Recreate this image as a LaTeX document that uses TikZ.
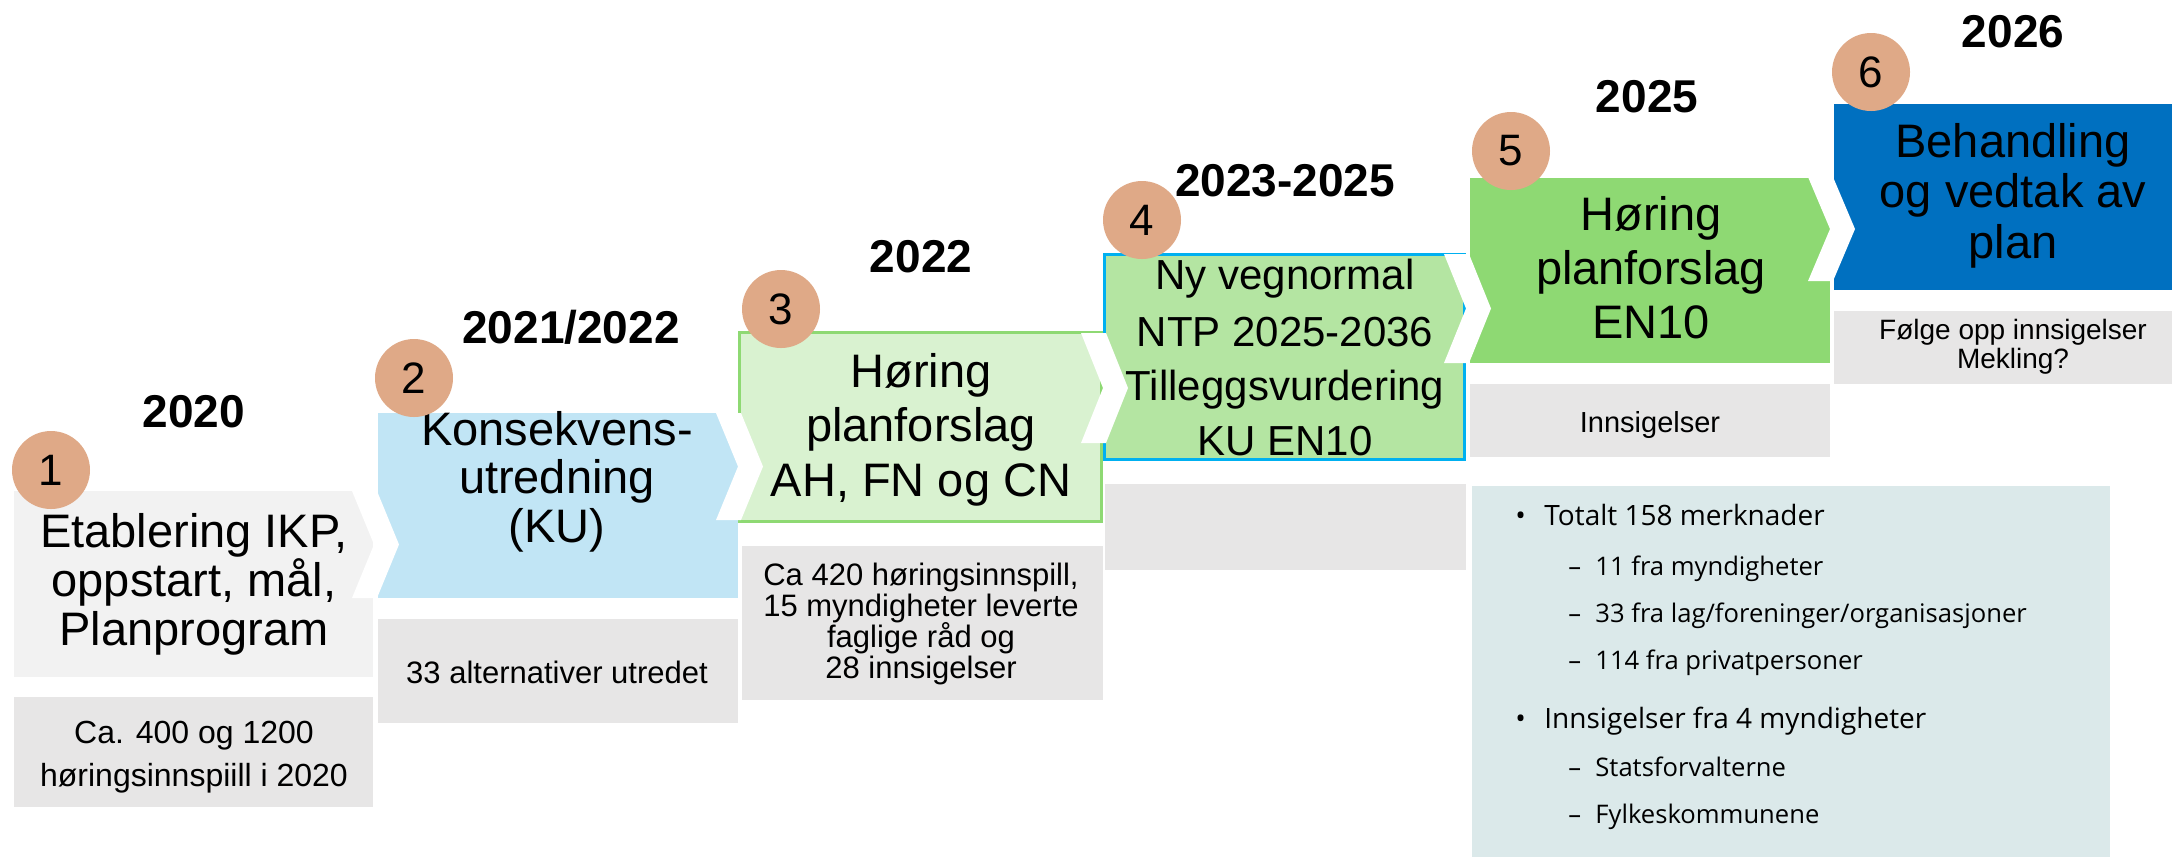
\documentclass[tikz,border=0pt]{standalone}
\usepackage{fontspec}
\setmainfont{Liberation Sans}
\newfontfamily\listfont{Open Sans}
\definecolor{boxgray}{HTML}{F2F2F2}
\definecolor{boxblue}{HTML}{C1E5F5}
\definecolor{boxpale}{HTML}{D9F2D0}
\definecolor{boxmid}{HTML}{B4E5A2}
\definecolor{boxgreen}{HTML}{8ED973}
\definecolor{boxdark}{HTML}{0070C0}
\definecolor{edgeblue}{HTML}{00B0F0}
\definecolor{notegray}{HTML}{E7E6E6}
\definecolor{teal}{HTML}{DBE9EA}
\definecolor{peach}{HTML}{DFA987}
\newcommand\chevw[3]{\fill[white] (#1-22,#2) -- (#1+3,#2) -- (#1+25,#2+#3/2) -- (#1+3,#2+#3) -- (#1-22,#2+#3) -- (#1,#2+#3/2) -- cycle;}
\tikzset{
  btxt/.style={anchor=base, inner sep=0pt, font=\fontsize{23.5}{27}\selectfont},
  btxts/.style={anchor=base, inner sep=0pt, font=\fontsize{21}{25}\selectfont},
  ntxt/.style={anchor=base, inner sep=0pt, font=\fontsize{#1}{18}\selectfont},
  yr/.style={inner sep=0pt, font=\bfseries\fontsize{23}{27}\selectfont},
  num/.style={circle, fill=peach, minimum size=39pt, inner sep=0pt, font=\fontsize{22}{26}\selectfont},
  lone/.style={anchor=base west, inner sep=0pt, font=\listfont\fontsize{14}{17}\selectfont},
  ltwo/.style={anchor=base west, inner sep=0pt, font=\listfont\fontsize{12.8}{15}\selectfont},
}
\begin{document}
\begin{tikzpicture}[x=0.5pt,y=-0.5pt]
\useasboundingbox (0,0) rectangle (2172,859);
% stage boxes
\fill[boxgray]  (14,491) rectangle (373,677);
\fill[boxblue]  (378,413) rectangle (738,598);
\fill[boxpale]  (738,331) rectangle (1103,523);
\draw[boxgreen, line width=1.5pt] (739.5,332.5) rectangle (1101.5,521.5);
\fill[boxmid]   (1103,253) rectangle (1466,461);
\draw[edgeblue, line width=1.5pt] (1104.5,254.5) rectangle (1464.5,459.5);
\fill[boxgreen] (1470,178) rectangle (1830,363);
\fill[boxdark]  (1834,104) rectangle (2172,290);
% note boxes
\fill[notegray] (14,697) rectangle (373,807);
\fill[notegray] (378,619) rectangle (738,723);
\fill[notegray] (742,546) rectangle (1103,700);
\fill[notegray] (1105,484) rectangle (1466,570);
\fill[notegray] (1470,384) rectangle (1830,457);
\fill[notegray] (1834,311) rectangle (2172,384);
\fill[teal] (1472,486) rectangle (2110,857);
% white chevrons
\chevw{374}{491}{107}
\chevw{738}{413}{107}
\chevw{1103}{333}{110}
\chevw{1466}{254}{109}
\chevw{1830}{177}{104}
% stage texts
\node[btxt] (s1a) at (194,547) {Etablering IKP,};
\node[btxt] (s1b) at (194,596) {oppstart, mål,};
\node[btxt] (s1c) at (194,645) {Planprogram};
\node[btxt] (s2a) at (557,445) {Konsekvens-};
\node[btxt] (s2b) at (557,493.5) {utredning};
\node[btxt] (s2c) at (557,542) {(KU)};
\node[btxt] (s3a) at (921,387) {Høring};
\node[btxt] (s3b) at (921,441.5) {planforslag};
\node[btxt] (s3c) at (921,496) {AH, FN og CN};
\node[btxts] (s4a) at (1285,289) {Ny vegnormal};
\node[btxts] (s4b) at (1285,346) {NTP 2025-2036};
\node[btxts] (s4c) at (1285,400) {Tilleggsvurdering};
\node[btxts] (s4d) at (1285,455) {KU EN10};
\node[btxt] (s5a) at (1651,230) {Høring};
\node[btxt] (s5b) at (1651,284) {planforslag};
\node[btxt] (s5c) at (1651,338) {EN10};
\node[btxt] (s6a) at (2013,157) {Behandling};
\node[btxt] (s6b) at (2013,207.5) {og vedtak av};
\node[btxt] (s6c) at (2013,258) {plan};
% note texts
\node[ntxt=16] (n1a) at (194,743) {Ca. 400 og 1200};
\node[ntxt=16] (n1b) at (194,786) {høringsinnspiill i 2020};
\node[ntxt=15.5] (n2a) at (557,683) {33 alternativer utredet};
\node[ntxt=15.5] (n3a) at (921,585) {Ca 420 høringsinnspill,};
\node[ntxt=15.5] (n3b) at (921,616) {15 myndigheter leverte};
\node[ntxt=15.5] (n3c) at (921,647) {faglige råd og};
\node[ntxt=15.5] (n3d) at (921,678) {28 innsigelser};
\node[ntxt=14.5] (n5a) at (1650,432) {Innsigelser};
\node[ntxt=14] (n6a) at (2013,339) {Følge opp innsigelser};
\node[ntxt=14] (n6b) at (2013,368) {Mekling?};
% list in teal box
\node[lone] (l1b) at (1515,525) {•};
\node[lone] (l1)  at (1544,525) {Totalt 158 merknader};
\node[ltwo] (l2b) at (1568,575) {–};
\node[ltwo] (l2)  at (1595,575) {11 fra myndigheter};
\node[ltwo] (l3b) at (1568,622) {–};
\node[ltwo] (l3)  at (1595,622) {33 fra lag/foreninger/organisasjoner};
\node[ltwo] (l4b) at (1568,669) {–};
\node[ltwo] (l4)  at (1595,669) {114 fra privatpersoner};
\node[lone] (l5b) at (1515,728) {•};
\node[lone] (l5)  at (1544,728) {Innsigelser fra 4 myndigheter};
\node[ltwo] (l6b) at (1568,776) {–};
\node[ltwo] (l6)  at (1595,776) {Statsforvalterne};
\node[ltwo] (l7b) at (1568,823) {–};
\node[ltwo] (l7)  at (1595,823) {Fylkeskommunene};
% numbered circles
\node[num] (c1) at (51,470) {1};
\node[num] (c2) at (414,378) {2};
\node[num] (c3) at (781,309) {3};
\node[num] (c4) at (1142,220) {4};
\node[num] (c5) at (1511,151) {5};
\node[num] (c6) at (1871,72) {6};
% years
\node[yr] (y1) at (194,412) {2020};
\node[yr] (y2) at (571,327) {2021/2022};
\node[yr] (y3) at (921,257) {2022};
\node[yr] (y4) at (1285,181) {2023-2025};
\node[yr] (y5) at (1647,97) {2025};
\node[yr] (y6) at (2013,32) {2026};
\end{tikzpicture}
\end{document}
